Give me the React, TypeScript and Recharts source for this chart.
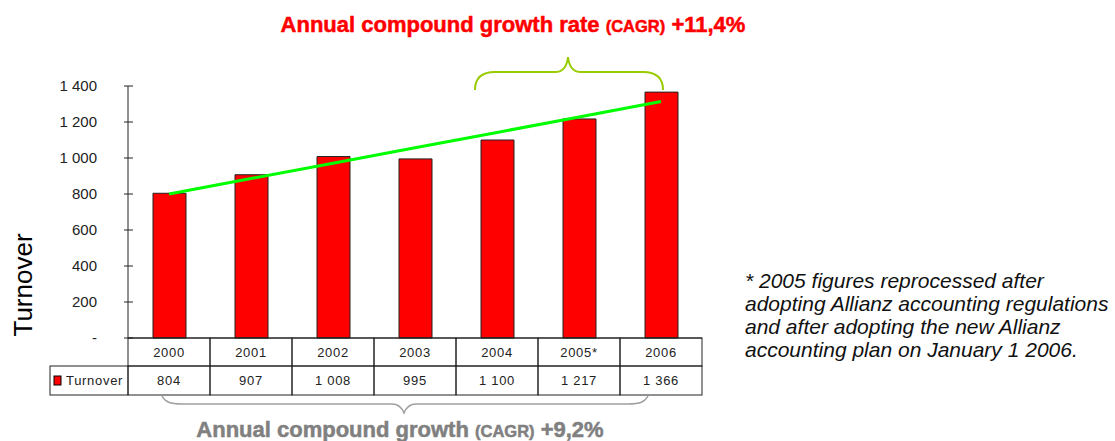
import React from "react";
import { ComposedChart, Bar, Line, XAxis, YAxis } from "recharts";

const years = ["2000", "2001", "2002", "2003", "2004", "2005*", "2006"];
const turnover = [804, 907, 1008, 995, 1100, 1217, 1366];
// green trend line at each year
const trend = [800, 886, 971, 1057, 1142, 1228, 1314];
const yTicks = [0, 200, 400, 600, 800, 1000, 1200, 1400];

const data = years.map((y, i) => ({ year: y, turnover: turnover[i], trend: trend[i] }));

const W = 720;
const H = 441;
const M = { top: 86, right: 18, left: 0, bottom: 0 };
const YW = 128;
const CELL_W = (W - YW - M.right) / years.length;
const ROW1 = 28;
const ROW2 = 29;
const LEGEND_W = 78;
const FONT = "'Liberation Sans', Arial, sans-serif";

const fmt = (v: number) => (v === 0 ? "-" : String(v).replace(/\B(?=(\d{3})+(?!\d))/g, " "));

function YTick(p: any) {
  const { x, y, payload } = p;
  return (
    <g>
      <line x1={YW - 4} x2={YW + 5} y1={y} y2={y} stroke="#222" />
      <text x={x} y={y} dy={5} textAnchor="end" fontFamily={FONT} fontSize={15} fill="#222">
        {fmt(payload.value)}
      </text>
    </g>
  );
}

function TableTick(p: any) {
  const { x, y, payload, index } = p;
  const left = x - CELL_W / 2;
  const border = "#222";
  const txt = { fontFamily: FONT, fontSize: 13, letterSpacing: 0.7, fill: "#222" };
  return (
    <g>
      <rect x={left} y={y} width={CELL_W} height={ROW1} fill="none" stroke={border} />
      <rect x={left} y={y + ROW1} width={CELL_W} height={ROW2} fill="none" stroke={border} />
      <text x={x} y={y + 19} textAnchor="middle" {...txt}>
        {payload.value}
      </text>
      <text x={x} y={y + ROW1 + 19} textAnchor="middle" {...txt}>
        {fmt(turnover[index])}
      </text>
      {index === 0 && (
        <g>
          <rect x={left - LEGEND_W} y={y + ROW1} width={LEGEND_W} height={ROW2} fill="none" stroke={border} />
          <rect x={left - LEGEND_W + 4} y={y + ROW1 + 10} width={7} height={9} fill="#ff0000" stroke="#000" />
          <text x={left - LEGEND_W + 16} y={y + ROW1 + 19} {...txt}>
            Turnover
          </text>
        </g>
      )}
    </g>
  );
}

export default function App() {
  return (
    <div style={{ position: "absolute", left: 0, top: 0, width: 1115, height: H, background: "#fff" }}>
      <ComposedChart width={W} height={H} data={data} margin={M}>
        <XAxis
          dataKey="year"
          height={H - 338}
          tickSize={0}
          tickMargin={0}
          tickLine={false}
          axisLine={{ stroke: "#222" }}
          tick={<TableTick />}
          interval={0}
        />
        <YAxis
          width={YW}
          domain={[0, 1400]}
          ticks={yTicks}
          tickSize={0}
          tickMargin={31}
          tickLine={false}
          axisLine={{ stroke: "#222" }}
          tick={<YTick />}
        />
        <Bar dataKey="turnover" fill="#ff0000" stroke="#222" strokeWidth={1} barSize={33} isAnimationActive={false} />
        <Line dataKey="trend" stroke="#00ff00" strokeWidth={3} dot={false} isAnimationActive={false} />
      </ComposedChart>
      <svg width={1115} height={H} style={{ position: "absolute", left: 0, top: 0, pointerEvents: "none" }}>
        <text x={513} y={32} textAnchor="middle" fontFamily={FONT} fontWeight="bold" fontSize={22} fill="#ff0000" stroke="#ff0000" strokeWidth={0.5}>
          Annual compound growth rate <tspan fontSize={16.5}>(CAGR)</tspan> +11,4%
        </text>
        <path
          d="M475,90 C475,78 482,72 495,72 L555,72 C563,72 567,66 568,57 C569,66 573,72 581,72 L643,72 C656,72 663,78 663,90"
          fill="none"
          stroke="#99cc00"
          strokeWidth={2}
        />
        <path
          d="M162,396 C165,402 170,404 182,404 L392,404 C399,404 402,408 404,413 C406,408 409,404 416,404 L628,404 C640,404 645,402 648,396"
          fill="none"
          stroke="#a0a0a0"
          strokeWidth={1.5}
        />
        <text x={400} y={437} textAnchor="middle" fontFamily={FONT} fontWeight="bold" fontSize={22} fill="#808080" stroke="#808080" strokeWidth={0.5}>
          Annual compound growth <tspan fontSize={16.5}>(CAGR)</tspan> +9,2%
        </text>
        <text transform="translate(32,285) rotate(-90)" textAnchor="middle" fontFamily={FONT} fontSize={26} fill="#000">
          Turnover
        </text>
        <g fontFamily={FONT} fontStyle="italic" fontSize={21} fill="#111">
          <text x={745} y={288}>* 2005 figures reprocessed after</text>
          <text x={745} y={311}>adopting Allianz accounting regulations</text>
          <text x={745} y={334}>and after adopting the new Allianz</text>
          <text x={745} y={357}>accounting plan on January 1 2006.</text>
        </g>
      </svg>
    </div>
  );
}
